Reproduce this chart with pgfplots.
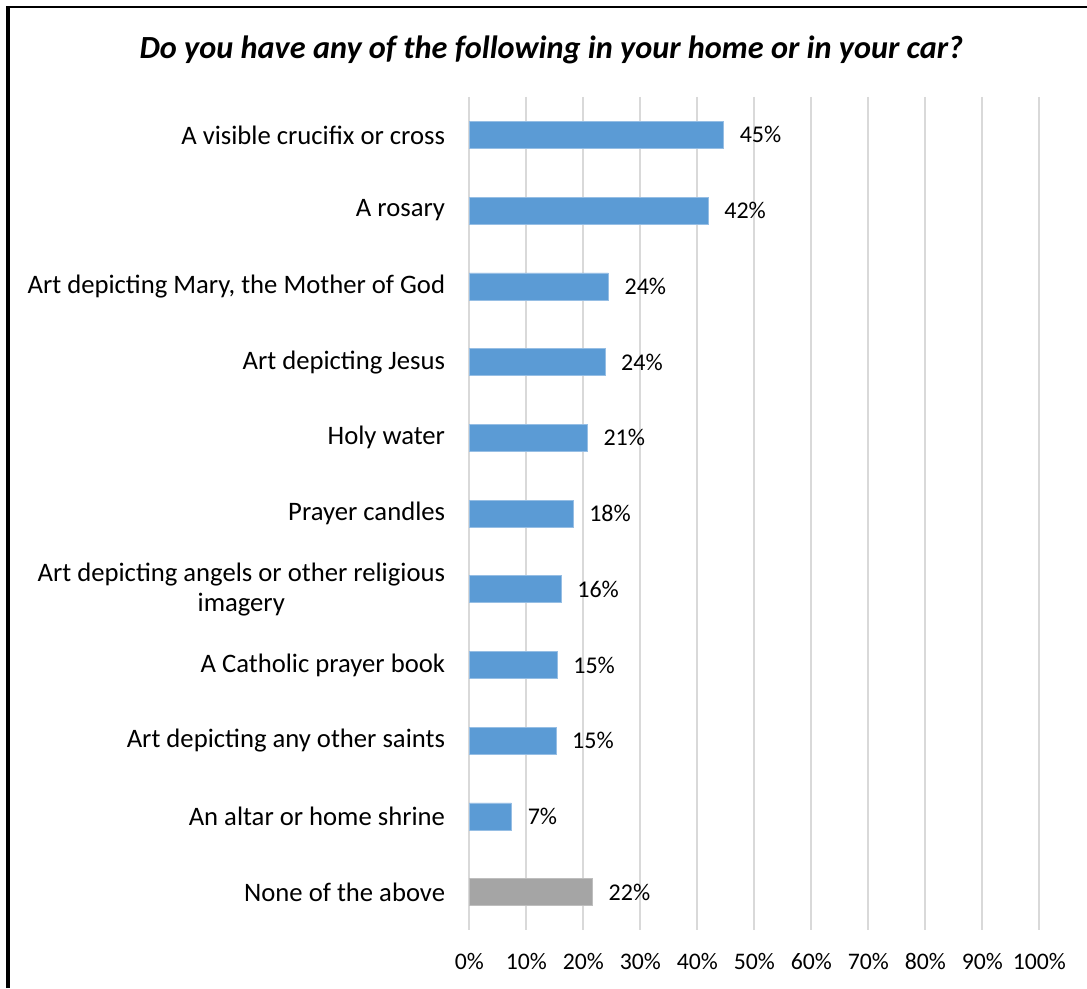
\documentclass[border=0pt]{standalone}
\usepackage{fontspec}
\setmainfont{Carlito}
\usepackage{pgfplots}
\pgfplotsset{compat=1.18}
\definecolor{barblue}{HTML}{5B9BD5}
\definecolor{bargray}{HTML}{A5A5A5}
\definecolor{gridgray}{HTML}{D9D9D9}
\begin{document}
\begin{tikzpicture}
\path[use as bounding box] (0,0) rectangle (815.25pt,741pt);
\draw[line width=3pt] (6pt,0) -- (6pt,736.75pt);
\draw[line width=2pt] (4.5pt,735.75pt) -- (815.25pt,735.75pt);
\node[font=\fontsize{24.2}{28}\selectfont\bfseries\itshape] at (413.6pt,703.5pt) {Do you have any of the following in your home or in your car?};
\begin{axis}[
  at={(351.975pt,43.5pt)}, anchor=south west,
  scale only axis, width=427.5pt, height=624.75pt,
  xmin=0, xmax=100, ymin=-0.5, ymax=10.5,
  y dir=reverse,
  axis line style={draw=none},
  xtick={0,10,...,100},
  xticklabels={0\%,10\%,20\%,30\%,40\%,50\%,60\%,70\%,80\%,90\%,100\%},
  xmajorgrids, grid style={gridgray, line width=1.5pt},
  major tick length=0pt,
  ytick={0,...,10},
  yticklabels={A visible crucifix or cross, A rosary, {Art depicting Mary, the Mother of God}, Art depicting Jesus, Holy water, Prayer candles, Art depicting angels or other religious\\imagery, A Catholic prayer book, Art depicting any other saints, An altar or home shrine, None of the above},
  yticklabel style={align=center, inner sep=0pt, xshift=-18pt, font=\fontsize{20}{22.5}\selectfont},
  xticklabel style={inner sep=0pt, yshift=-17pt, font=\fontsize{17.8}{20}\selectfont},
  xbar, bar width=20.25pt, bar shift=0pt,
  nodes near coords,
  point meta=explicit symbolic,
  every node near coord/.append style={anchor=west, inner sep=0pt, xshift=12pt, font=\fontsize{18}{21}\selectfont, text=black},
  clip=false,
]
\addplot[fill=barblue, draw={rgb,255:red,150;green,190;blue,228}, line width=0.4pt] coordinates {
(44.6,0) [45\%]
(41.9,1) [42\%]
(24.4,2) [24\%]
(23.8,3) [24\%]
(20.7,4) [21\%]
(18.2,5) [18\%]
(16.1,6) [16\%]
(15.4,7) [15\%]
(15.2,8) [15\%]
(7.4,9) [7\%]
};
\addplot[fill=bargray, draw={rgb,255:red,190;green,190;blue,190}, line width=0.4pt] coordinates {
(21.6,10) [22\%]
};
\end{axis}
\end{tikzpicture}
\end{document}
